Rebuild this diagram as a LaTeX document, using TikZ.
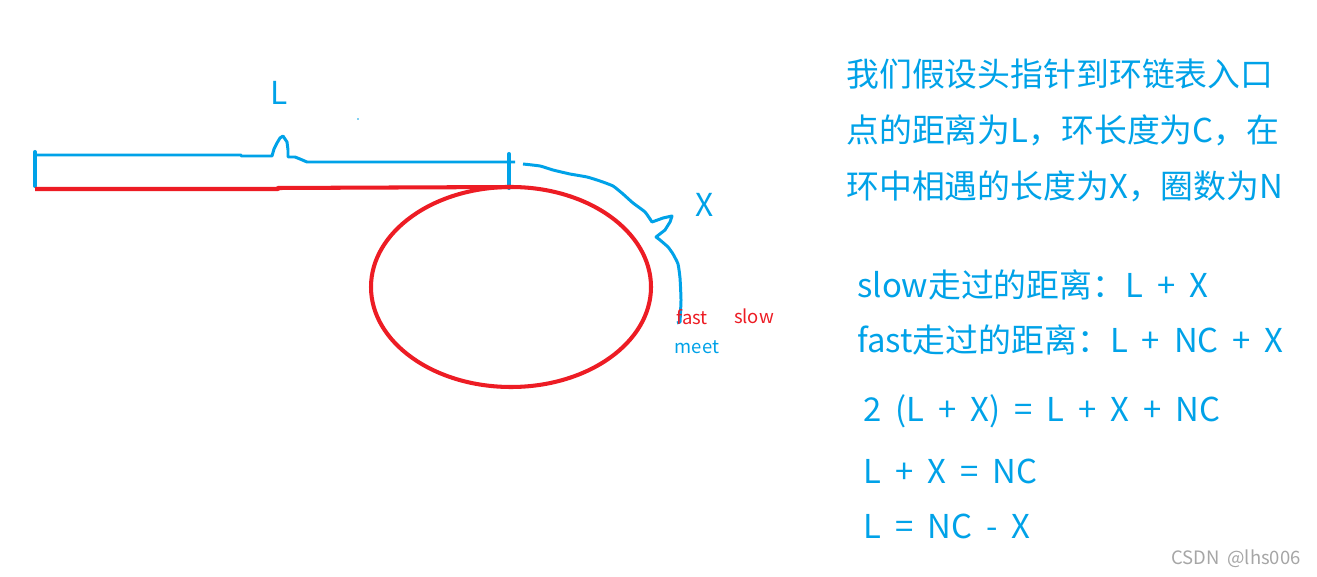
\documentclass[tikz,border=0pt]{standalone}
\usepackage{fontspec}
\setmainfont[WordSpace=1.9]{Noto Sans CJK SC}
\usetikzlibrary{positioning,shapes.geometric}
\definecolor{penblue}{RGB}{0,162,232}
\definecolor{penred}{RGB}{237,28,36}

\begin{document}
\begin{tikzpicture}[x=0.02cm,y=-0.02cm,
        bluepen/.style={draw=penblue,line width=1.7pt,line join=round},
        redpen/.style={draw=penred,line width=2.3pt,line join=round},
        tick/.style={draw=penblue,line width=2.3pt,line cap=round},
        label/.style={text=penblue,inner sep=0pt,font=\fontsize{18}{20}\selectfont},
        small/.style={inner sep=0pt,font=\fontsize{10.5}{12}\selectfont},
        note/.style={text=penblue,inner sep=0pt,anchor=west,font=\fontsize{18.7}{22}\selectfont}]
        \fill[white] (0,0) rectangle (1317,577);
        \useasboundingbox (0,0) rectangle (1317,577);
        % list part
        \coordinate (head) at (35,152);
        \coordinate (headb) at (35,186);
        \coordinate (entry) at (509,154);
        \coordinate (entryb) at (509,188);
        \draw[tick] (head) -- (headb);
        \draw[tick] (entry) -- (entryb);
        \draw[bluepen] (37,155) -- (241,155) -- (241,156) -- (272,156) -- (274,149) -- (277,143)
            -- (280,138) -- (283,136) -- (287,142) -- (288,150) -- (288,157) -- (295,157)
            -- (300,159) -- (307,162) -- (515,162);
        \draw[redpen] (35,189) -- (278,189) -- (278,188) -- (510,187);
        \fill[penblue] (358,119) circle (0.8);
        % ring part
        \node[redpen,ellipse,minimum width=280*0.02cm,minimum height=200*0.02cm,inner sep=0pt] (ring) at (511,287) {};
        \draw[bluepen] plot[smooth,tension=0.3] coordinates {(523,164) (540,166) (553,170)
            (570,174) (587,177) (600,181) (613,186) (623,194) (633,203) (645,212) (652,222)}
            -- (663,218) -- (672,216) -- (670,222) -- (665,230) -- (656,237) -- (660,240)
            plot[smooth,tension=0.3] coordinates {(660,240) (668,247) (673,254) (678,264)
            (680,278) (681,300) (680,322)} -- (677,323);
        % labels
        \node[label] (lenL) at (279,93) {L};
        \node[label] (lenX) at (705,205) {X};
        \node[small,text=penred] (fast) at (692,317) {fast};
        \node[small,text=penred] (slow) at (754,316) {slow};
        \node[small,text=penblue] (meet) at (697,347) {meet};
        % text part
        \node[note] (intro1) at (846,74) {我们假设头指针到环链表入口};
        \node[note] (intro2) at (846,130) {点的距离为L，环长度为C，在};
        \node[note] (intro3) at (846,186) {环中相遇的长度为X，圈数为N};
        \node[note] (slowd) at (857,285) {slow走过的距离：L + X};
        \node[note] (fastd) at (857,340) {fast走过的距离：L + NC + X};
        \node[note] (eq1) at (863,411) {2 (L + X) = L + X + NC};
        \node[note] (eq2) at (863,471) {L + X = NC};
        \node[note] (eq3) at (863,526) {L = NC - X};
        \node[small,text=gray!70,anchor=east] (mark) at (1301,559) {CSDN @lhs006};
\end{tikzpicture}
\end{document}
